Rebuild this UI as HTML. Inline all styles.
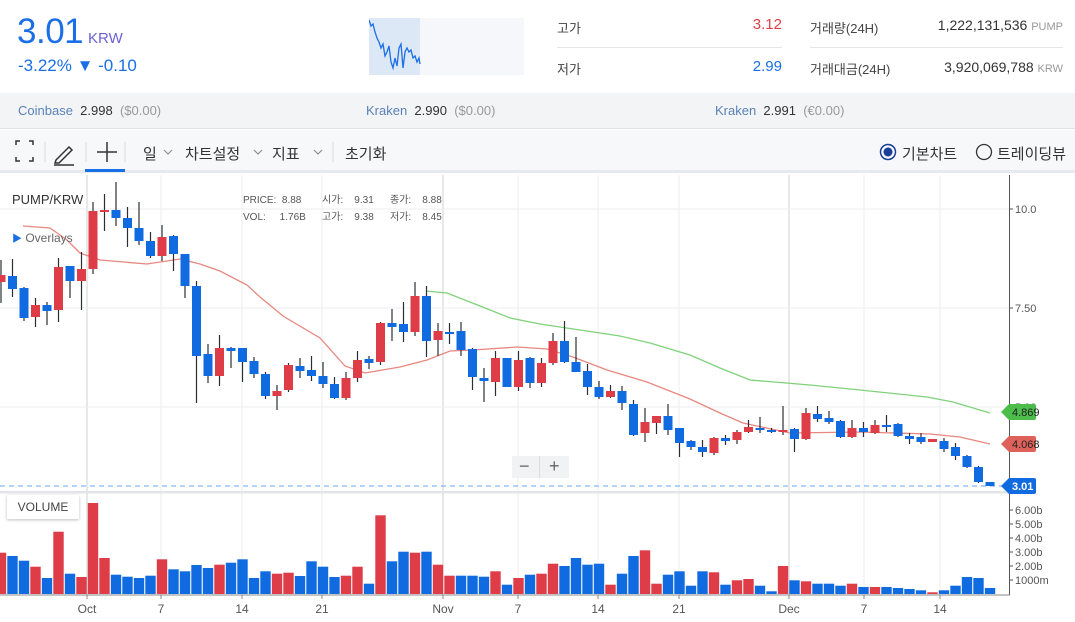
<!DOCTYPE html>
<html><head><meta charset="utf-8">
<style>
*{margin:0;padding:0;box-sizing:border-box}
body{width:1075px;height:622px;overflow:hidden;background:#fff;font-family:"Liberation Sans","Noto Sans CJK KR",sans-serif;position:relative;color:#333}
.a{position:absolute;white-space:nowrap}
</style></head><body>
<div class="a" style="left:17px;top:12px;font-size:35px;color:#1a6fe6;letter-spacing:-0.5px">3.01</div>
<div class="a" style="left:88px;top:30px;font-size:15px;color:#6a62d4">KRW</div>
<div class="a" style="left:18px;top:56px;font-size:17px;color:#1a6fe6">-3.22% ▼ -0.10</div>
<svg class="a" style="left:369px;top:18px" width="155" height="57">
<rect width="155" height="57" fill="#f5f7fa"/><rect width="51" height="57" fill="#dde8f6"/>
<polyline fill="none" stroke="#1a6fe6" stroke-width="1.3" points="0,2 2,8 4,6 6,14 8,20 10,24 12,30 14,26 16,38 18,34 20,28 22,44 24,50 26,40 28,48 30,30 32,26 34,50 36,34 38,30 40,34 42,32 44,40 46,38 48,44 50,40 51,46"/>
</svg>
<div class="a" style="left:557px;top:18px;font-size:13px;color:#444">고가</div>
<div class="a" style="left:700px;top:16px;width:82px;text-align:right;font-size:15px;color:#e03e47">3.12</div>
<div class="a" style="left:557px;top:47px;width:225px;height:1px;background:#e3e5e8"></div>
<div class="a" style="left:557px;top:59px;font-size:13px;color:#444">저가</div>
<div class="a" style="left:700px;top:58px;width:82px;text-align:right;font-size:15px;color:#1a6fe6">2.99</div>
<div class="a" style="left:810px;top:18px;font-size:13px;color:#444">거래량(24H)</div>
<div class="a" style="left:880px;top:17px;width:183px;text-align:right;font-size:14px;color:#333">1,222,131,536 <span style="font-size:11px;color:#999">PUMP</span></div>
<div class="a" style="left:810px;top:47px;width:253px;height:1px;background:#e3e5e8"></div>
<div class="a" style="left:810px;top:59px;font-size:13px;color:#444">거래대금(24H)</div>
<div class="a" style="left:880px;top:59px;width:183px;text-align:right;font-size:14px;color:#333">3,920,069,788 <span style="font-size:11px;color:#999">KRW</span></div>
<div class="a" style="left:0;top:93px;width:1075px;height:36px;background:#f3f4f6;border-bottom:1px solid #dfe1e5"></div>
<div class="a" style="left:18px;top:103px;font-size:13px;color:#5b82b8">Coinbase&nbsp; <b style="color:#333;font-weight:normal">2.998</b>&nbsp; <span style="color:#999">($0.00)</span></div>
<div class="a" style="left:366px;top:103px;font-size:13px;color:#5b82b8">Kraken&nbsp; <b style="color:#333;font-weight:normal">2.990</b>&nbsp; <span style="color:#999">($0.00)</span></div>
<div class="a" style="left:715px;top:103px;font-size:13px;color:#5b82b8">Kraken&nbsp; <b style="color:#333;font-weight:normal">2.991</b>&nbsp; <span style="color:#999">(€0.00)</span></div>
<div class="a" style="left:0;top:130px;width:1075px;height:43px;background:#f7f8fa;border-bottom:3px solid #e6e9ee"></div>
<svg class="a" style="left:0;top:130px" width="420" height="43">
<g stroke="#333" stroke-width="1.5" fill="none"><path d="M16 15v-4h4M29 11h4v4M16 27v4h4M29 31h4v-4"/>
<path d="M56 30l13-13 3 3-13 13h-4z M54 35h20"/><path d="M107 12v20M97 22h20"/></g>
<line x1="45" y1="12" x2="45" y2="32" stroke="#ddd"/><line x1="86" y1="12" x2="86" y2="32" stroke="#ddd"/><line x1="125" y1="12" x2="125" y2="32" stroke="#ddd"/><line x1="333" y1="12" x2="333" y2="32" stroke="#ddd"/>
<rect x="85" y="39" width="40" height="3" fill="#1a6fe6"/>
<g stroke="#888" fill="none" stroke-width="1"><path d="M164 20l4 4 4-4M254 20l4 4 4-4M314 20l4 4 4-4"/></g>
</svg>
<div class="a" style="left:143px;top:143px;font-size:15px;color:#333">일</div>
<div class="a" style="left:185px;top:143px;font-size:15px;color:#333">차트설정</div>
<div class="a" style="left:272px;top:143px;font-size:15px;color:#333">지표</div>
<div class="a" style="left:345px;top:143px;font-size:15px;color:#333">초기화</div>
<svg class="a" style="left:878px;top:142px" width="20" height="20"><circle cx="10" cy="10" r="7.5" fill="none" stroke="#1a3f9a" stroke-width="1.5"/><circle cx="10" cy="10" r="4.5" fill="#1a3f9a"/></svg>
<div class="a" style="left:902px;top:143px;font-size:15px;color:#333">기본차트</div>
<svg class="a" style="left:974px;top:142px" width="20" height="20"><circle cx="10" cy="10" r="7.5" fill="none" stroke="#333" stroke-width="1.3"/></svg>
<div class="a" style="left:997px;top:143px;font-size:15px;color:#333">트레이딩뷰</div>
<svg id="ch" class="a" style="left:0;top:0" width="1075" height="622"></svg>
<div class="a" style="left:12px;top:192px;font-size:13px;color:#333">PUMP/KRW</div>
<div class="a" style="left:12px;top:230px;font-size:12px;color:#666"><span style="color:#1a6fe6;font-size:10px">▶</span> Overlays</div>
<div class="a" style="left:243px;top:192px;font-size:10px;color:#555;line-height:17px">PRICE:&nbsp; 8.88<br>VOL:&nbsp;&nbsp;&nbsp;&nbsp; 1.76B</div>
<div class="a" style="left:322px;top:192px;font-size:10px;color:#555;line-height:17px">시가:&nbsp;&nbsp;&nbsp; 9.31<br>고가:&nbsp;&nbsp;&nbsp; 9.38</div>
<div class="a" style="left:390px;top:192px;font-size:10px;color:#555;line-height:17px">종가:&nbsp;&nbsp;&nbsp; 8.88<br>저가:&nbsp;&nbsp;&nbsp; 8.45</div>
<div class="a" style="left:7px;top:495px;width:72px;height:24px;background:#fff;box-shadow:0 1px 3px rgba(0,0,0,.25);font-size:12px;color:#444;text-align:center;line-height:24px">VOLUME</div>
<div class="a" style="left:512px;top:456px;width:57px;height:22px;background:#f1f2f4;font-size:18px;color:#666;line-height:21px"><span style="position:absolute;left:7px">−</span><span style="position:absolute;left:27px;top:0;width:1px;height:22px;background:#ddd"></span><span style="position:absolute;left:37px">+</span></div>
<script>
var C=[["r",275,282,260,303],["b",276,289,259,297],["b",288,318,287,321],["r",305,317,298,327],["b",305,311,302,325],["r",267,310,258,322],["b",266,281,266,298],["r",269,281,252,310],["r",211,269,202,274],["r",210,212,194,231],["b",210,218,182,226],["b",218,228,207,247],["b",228,241,202,245],["b",241,256,232,258],["r",237,256,225,261],["b",236,254,235,271],["b",254,286,254,298],["b",286,356,281,403],["b",354,376,344,383],["r",348,376,335,386],["b",348,351,347,368],["b",348,362,348,382],["b",361,374,357,378],["b",374,396,372,399],["r",391,396,385,410],["r",365,390,363,392],["b",366,371,358,378],["b",370,376,356,381],["b",376,384,362,388],["b",384,398,377,399],["r",378,398,372,400],["r",360,378,351,382],["b",359,363,356,369],["r",323,362,322,365],["b",323,327,309,341],["b",324,332,302,342],["r",296,332,282,336],["b",296,341,286,357],["r",331,340,323,356],["b",332,334,323,344],["b",331,350,322,356],["b",349,377,348,390],["b",378,381,368,402],["r",358,382,351,396],["b",358,387,358,387],["r",360,387,351,391],["b",358,383,357,388],["r",363,383,358,387],["r",341,363,333,365],["b",341,362,321,363],["b",362,372,337,372],["b",371,387,364,395],["b",387,397,381,399],["r",391,397,385,398],["b",391,403,386,410],["b",404,435,400,436],["r",422,433,408,442],["r",416,423,416,434],["b",416,430,404,435],["b",428,443,428,457],["b",441,447,440,450],["b",447,452,440,457],["r",438,453,437,455],["b",438,441,435,445],["r",432,440,430,444],["r",427,432,420,433],["b",428,430,417,433],["b",430,432,428,433],["r",430,432,406,435],["b",429,439,428,452],["r",413,439,408,440],["b",414,419,406,422],["b",418,422,411,424],["b",421,437,420,438],["r",428,437,420,438],["b",428,432,422,437],["r",425,433,420,434],["b",425,427,415,432],["b",424,436,423,437],["b",436,439,433,444],["b",437,442,433,444],["r",439,442,439,442],["b",441,449,438,452],["b",447,456,443,460],["b",456,467,455,468],["b",467,482,466,483],["b",482,486,482,486]];
var V=[552.7,556,560.7,566.7,578,531.7,573.7,577,503,558,574.7,576.7,578,575.7,559.3,569.3,571.3,565,568,564.7,562.7,559.3,578,571.3,573.7,572.7,576,561.3,566.7,577,575.7,566.7,583.7,515.3,561.3,551.7,552.7,551.7,564.7,575.7,575.7,575.7,576.7,571.3,584.7,578,574.7,573.7,563.7,566,558,564.7,563.7,584.7,573.7,556,550.3,583.7,574.7,571.3,585.7,571.3,572.3,584.7,580.3,579,585.7,591.3,566,580.3,581.3,583.7,583.7,585.7,583.7,587,587,587,588,589,590.3,592.3,590.3,585.7,577,578,588];
var VC="rbbrbrbrrrbbbbrbbbbrbbbbrrbbbbrrbrbbrbrrbbbrbrbrrbbbbrbbrrbbbbrbrrbbrbrbbbrbrbbbbrbbbbb";
var R="#de3c46",B="#106be0",s='';
// grid
[87,161,242,322,443,518,598,679,789,864,940].forEach(function(x,i){var d=(x==87||x==443||x==789);s+='<line x1="'+x+'" y1="175" x2="'+x+'" y2="595" stroke="'+(d?'#cfd2d6':'#eceef0')+'" stroke-width="1"/>';});
[209,308,407].forEach(function(y){s+='<line x1="0" y1="'+y+'" x2="1009" y2="'+y+'" stroke="#eceef0"/>';});
s+='<rect x="0" y="491" width="1009" height="2.5" fill="#e2e4e7"/>';
s+='<line x1="0" y1="486" x2="1005" y2="486" stroke="#6aa4f0" stroke-dasharray="5,4"/>';
// MA lines
s+='<polyline fill="none" stroke="#e8877f" stroke-width="1.3" points="23,226 50,228 67,240 80,253 100,260 147,264 180,259 200,264 220,271 247,285 260,297 283,316 320,338 345,366 365,373 400,367 427,360 450,351 473,350 517,347 547,349 573,357 607,370 647,382 690,399 720,413 743,423 790,433 860,432 930,434 960,437 990,444"/>';
s+='<polyline fill="none" stroke="#7fd27a" stroke-width="1.3" points="426,291 447,293 480,306 510,318 540,324 580,330 620,336 650,343 690,355 720,368 750,380 810,385 860,390 927,397 953,402 990,413"/>';
C.forEach(function(c,i){var x=1+11.5*i,col=c[0]=="r"?R:B;s+='<line x1="'+x+'" y1="'+c[3]+'" x2="'+x+'" y2="'+c[4]+'" stroke="#2a2f36" stroke-width="1.2"/>';var h=Math.max(2,c[2]-c[1]);s+='<rect x="'+(x-4.5)+'" y="'+c[1]+'" width="9" height="'+h+'" fill="'+col+'"/>';});
V.forEach(function(v,i){var x=1+11.5*i,col=VC[i]=="r"?R:B;s+='<rect x="'+(x-5.2)+'" y="'+v+'" width="10.4" height="'+(594-v)+'" fill="'+col+'"/>';});
// axes
s+='<line x1="1009.5" y1="175" x2="1009.5" y2="595" stroke="#555"/><line x1="0" y1="595" x2="1010" y2="595" stroke="#888"/>';
[["10.0",209],["7.50",308],["5.00",407]].forEach(function(t){s+='<line x1="1009" y1="'+t[1]+'" x2="1013" y2="'+t[1]+'" stroke="#555"/><text x="1015" y="'+(t[1]+4)+'" font-size="11" fill="#555">'+t[0]+'</text>';});
[["6.00b",510],["5.00b",524],["4.00b",538],["3.00b",552],["2.00b",566],["1000m",580]].forEach(function(t){s+='<line x1="1009" y1="'+t[1]+'" x2="1013" y2="'+t[1]+'" stroke="#555"/><text x="1015" y="'+(t[1]+4)+'" font-size="11" fill="#555">'+t[0]+'</text>';});
function tag(y,col,txt){s+='<path d="M1001 '+y+' L1009 '+(y-8)+' H1034 Q1036 '+(y-8)+' 1036 '+(y-6)+' V'+(y+6)+' Q1036 '+(y+8)+' 1034 '+(y+8)+' H1009 Z" fill="'+col+'"/><text x="1012" y="'+(y+4)+'" font-size="11" fill="'+(col==B?'#fff':'#222')+'" '+(col==B?'font-weight="bold"':'')+'>'+txt+'</text>';}
tag(412,"#4cbc4a","4.869");tag(444,"#de625b","4.068");tag(486,B,"3.01");
[["Oct",87],["7",161],["14",242],["21",322],["Nov",443],["7",518],["14",598],["21",679],["Dec",789],["7",864],["14",940]].forEach(function(t){s+='<line x1="'+t[1]+'" y1="595" x2="'+t[1]+'" y2="599" stroke="#888"/><text x="'+t[1]+'" y="613" font-size="12" fill="#555" text-anchor="middle">'+t[0]+'</text>';});
document.getElementById("ch").innerHTML=s;
</script>
</body></html>
